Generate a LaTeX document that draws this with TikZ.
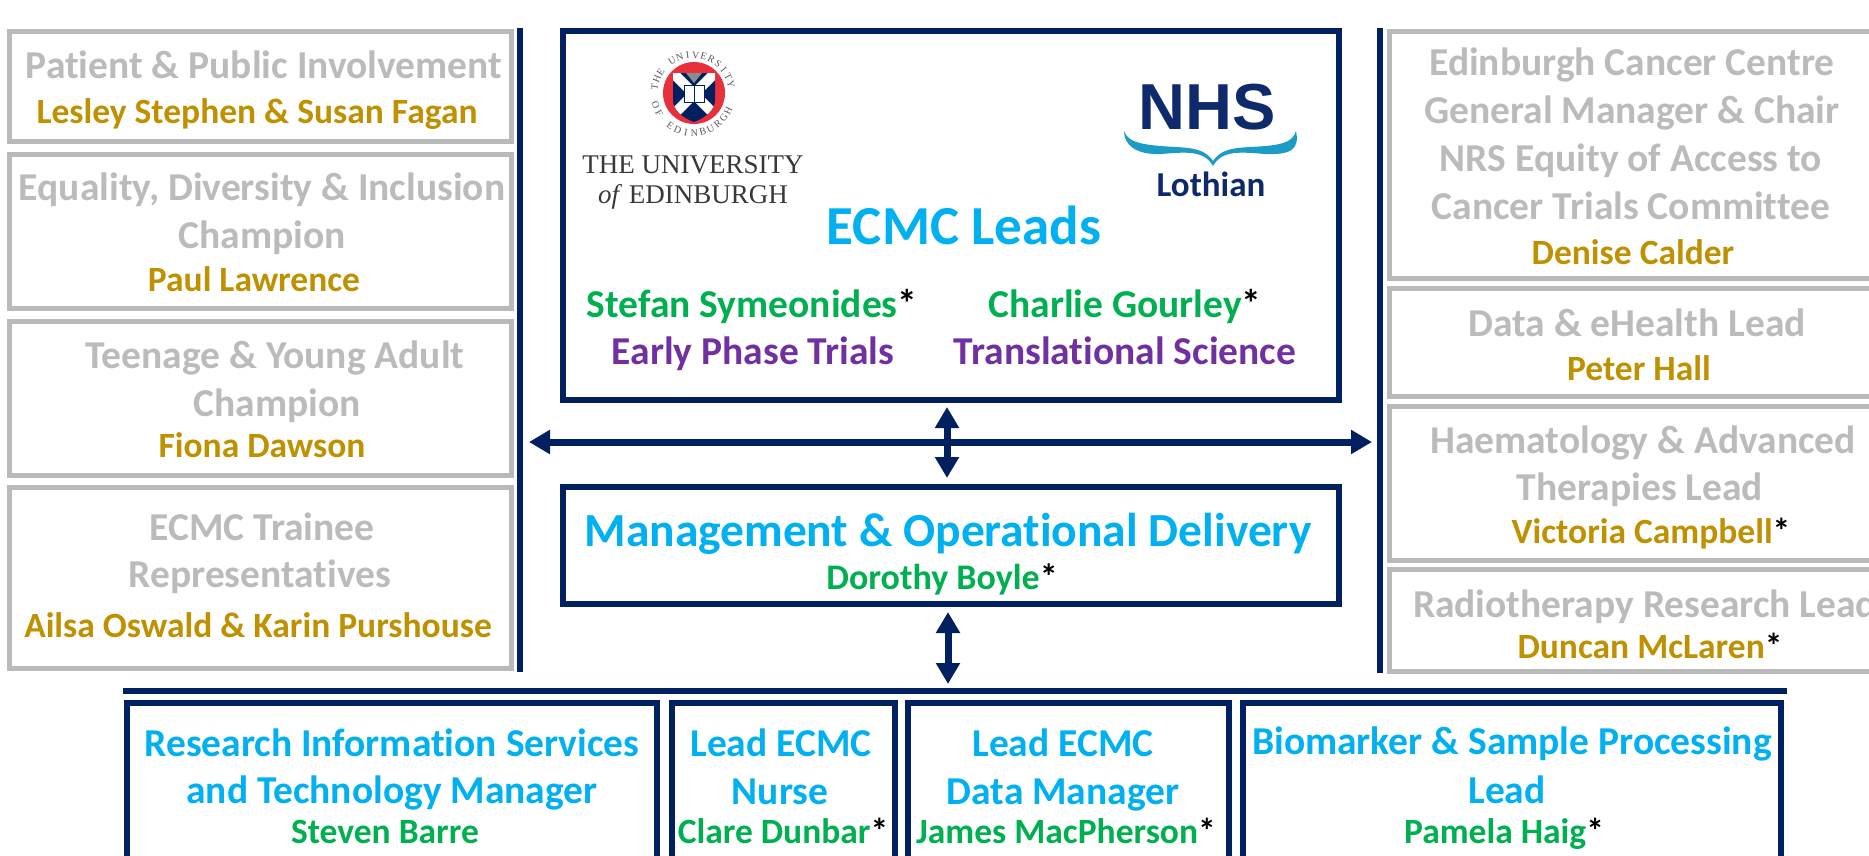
\documentclass[tikz,border=0pt]{standalone}
\usepackage{fontspec}
\setmainfont{Carlito}[Ligatures=CommonOff]
\newfontfamily\serifl{Liberation Serif}
\newfontfamily\nhsf{Liberation Sans}
\usetikzlibrary{arrows.meta}
\definecolor{navy}{HTML}{002060}
\definecolor{boxgray}{HTML}{B9B9B9}
\definecolor{txtgray}{HTML}{BBBBBB}
\definecolor{gold}{HTML}{BF9000}
\definecolor{cyanb}{HTML}{00B0F0}
\definecolor{greenb}{HTML}{00B050}
\definecolor{purp}{HTML}{7030A0}
\definecolor{nhsnavy}{HTML}{0F2A6B}
\definecolor{nhsteal}{HTML}{1B9CC4}
\definecolor{crestred}{HTML}{E8303A}
\newcommand{\st}{\textcolor{black}{*}}
\newcommand{\sz}[1]{\fontsize{#1pt}{#1pt}\selectfont\bfseries}
\tikzset{
  x=1pt,y=-1pt,
  graybox/.style={draw=boxgray,line width=5.5pt,fill=white,inner sep=0pt},
  navybox/.style={draw=navy,line width=6.5pt,fill=white,inner sep=0pt},
  txt/.style={anchor=base,inner sep=0pt,outer sep=0pt,yshift=-1pt},
  gh/.style={txt,text=txtgray,font=\sz{39.5}},
  gn/.style={txt,text=gold,font=\sz{35.5}},
  ch/.style={txt,text=cyanb,font=\sz{39.5}},
  gr/.style={txt,text=greenb,font=\sz{35.5}},
  pu/.style={txt,text=purp,font=\sz{39.5}},
  bar/.style={draw=navy,line width=6pt},
  dbl/.style={draw=navy,line width=7pt,{Triangle[length=21pt,width=23pt]}-{Triangle[length=21pt,width=23pt]}},
  crestletter/.style={inner sep=0pt,outer sep=0pt,text=black!65,font=\serifl\fontsize{10pt}{10pt}\selectfont},
}
\begin{document}
\begin{tikzpicture}
\clip (0,0) rectangle (1869,855);
% left column
\path[graybox] (9.5,31.5) rectangle (511.5,141.5);
\path[graybox] (9.5,154.5) rectangle (511.5,308.5);
\path[graybox] (9.5,321.5) rectangle (511.5,475.5);
\path[graybox] (9.5,487.5) rectangle (511.5,668.5);
\node[gh] (l1a) at (264,77) {Patient \& Public Involvement};
\node[gn] (l1b) at (257,122) {Lesley Stephen \& Susan Fagan};
\node[gh] (l2a) at (262,199) {Equality, Diversity \& Inclusion};
\node[gh] (l2b) at (262,247) {Champion};
\node[gn] (l2c) at (254,290) {Paul Lawrence};
\node[gh] (l3a) at (275,367) {Teenage \& Young Adult};
\node[gh] (l3b) at (277,415) {Champion};
\node[gn] (l3c) at (262,456) {Fiona Dawson};
\node[gh] (l4a) at (262,539) {ECMC Trainee};
\node[gh] (l4b) at (260,586) {Representatives};
\node[gn] (l4c) at (258,636) {Ailsa Oswald \& Karin Purshouse};
% right column
\path[graybox] (1389.5,31.5) rectangle (1890,278.5);
\path[graybox] (1389.5,288.5) rectangle (1890,396.5);
\path[graybox] (1389.5,406.5) rectangle (1890,560.5);
\path[graybox] (1389.5,569.5) rectangle (1890,671.5);
\node[gh] (r1a) at (1632,74) {Edinburgh Cancer Centre};
\node[gh] (r1b) at (1632,122) {General Manager \& Chair};
\node[gh] (r1c) at (1631,170) {NRS Equity of Access to};
\node[gh] (r1d) at (1631,218) {Cancer Trials Committee};
\node[gn] (r1e) at (1633,263) {Denise Calder};
\node[gh] (r2a) at (1637,335) {Data \& eHealth Lead};
\node[gn] (r2b) at (1639,379) {Peter Hall};
\node[gh] (r3a) at (1643,452) {Haematology \& Advanced};
\node[gh] (r3b) at (1640,499) {Therapies Lead};
\node[gn] (r3c) at (1651,542) {Victoria Campbell\st};
\node[gh,anchor=base west] (r4a) at (1413,616) {Radiotherapy Research Lead};
\node[gn] (r4b) at (1650,657) {Duncan McLaren\st};
% rules
\coordinate (vlt) at (520,28); \coordinate (vlb) at (520,672);
\coordinate (vrt) at (1380,28); \coordinate (vrb) at (1380,673);
\coordinate (hbl) at (123,691); \coordinate (hbr) at (1787,691);
\draw[bar] (vlt) -- (vlb);
\draw[bar] (vrt) -- (vrb);
\draw[bar] (hbl) -- (hbr);
% centre boxes
\path[navybox] (563,31) rectangle (1339,400);
\path[navybox] (563,487) rectangle (1339,604);
\coordinate (ecmcS) at (947,407);
\coordinate (mgmtN) at (947,478);
\coordinate (mgmtS) at (948,612);
\coordinate (hbarN) at (948,684);
\coordinate (harrL) at (529,442);
\coordinate (harrR) at (1372,442);
\draw[dbl] (harrL) -- (harrR);
\draw[dbl] (ecmcS) -- (mgmtN);
\draw[dbl] (mgmtS) -- (hbarN);
% crest
\coordinate (crest) at (694,93);
\fill[crestred] (crest) circle (31);
\fill[navy] (673,73) -- (715,73) -- (715,100) .. controls (715,110) and (705,118) .. (694,122) .. controls (683,118) and (673,110) .. (673,100) -- cycle;
\begin{scope}
\clip (673,73) -- (715,73) -- (715,100) .. controls (715,110) and (705,118) .. (694,122) .. controls (683,118) and (673,110) .. (673,100) -- cycle;
\draw[white,line width=10pt] (670,70) -- (718,118);
\draw[white,line width=10pt] (718,70) -- (670,118);
\fill[black!45] (686,73) -- (702,73) -- (694,83) -- cycle;
\fill[navy] (689,108) rectangle (699,119);
\end{scope}
\fill[white,draw=navy,line width=0.9pt] (684,85) rectangle (704,102);
\draw[navy,line width=0.9pt] (694,85) -- (694,102);
\foreach \c/\i in {T/0,H/1,E/2,U/4,N/5,I/6,V/7,E/8,R/9,S/10,I/11,T/12,Y/13}{
  \pgfmathsetmacro{\a}{170-12*\i}
  \node[crestletter,rotate=\a-90] (ct\i) at ({693+39*cos(\a)},{94-39*sin(\a)}) {\c};
}
\foreach \c/\i in {O/0,F/1,E/3,D/4,I/5,N/6,B/7,U/8,R/9,G/10,H/11}{
  \pgfmathsetmacro{\a}{197+12.5*\i}
  \node[crestletter,rotate=\a+90] (cb\i) at ({693+39*cos(\a)},{94-39*sin(\a)}) {\c};
}
\node[txt,font=\serifl\fontsize{27pt}{27pt}\selectfont,text=black!78] (uni1) at (693,172) {THE UNIVERSITY};
\node[txt,font=\serifl\fontsize{27pt}{27pt}\selectfont,text=black!78] (uni2) at (693,202) {\textit{of} EDINBURGH};
% NHS
\node[txt,text=nhsnavy,font=\nhsf\bfseries\fontsize{65pt}{65pt}\selectfont] (nhs) at (1207,128) {NHS};
\node[txt,text=nhsnavy,font=\sz{35}] (loth) at (1211,195) {Lothian};
\fill[nhsteal] (1124,131) .. controls (1128,142) and (1140,144) .. (1160,146)
  .. controls (1185,148) and (1203,146) .. (1213,161)
  .. controls (1223,146) and (1241,148) .. (1266,146)
  .. controls (1284,144) and (1292,142) .. (1296,131)
  .. controls (1300,150) and (1290,155) .. (1265,154)
  .. controls (1240,152) and (1222,150) .. (1213,166)
  .. controls (1204,150) and (1186,152) .. (1161,154)
  .. controls (1136,155) and (1124,145) .. (1124,131) -- cycle;
% centre text
\node[ch,font=\sz{55}] (leads) at (964,243) {ECMC Leads};
\node[gr,font=\sz{39.5}] (stefan) at (752,316) {Stefan Symeonides\st};
\node[gr,font=\sz{39.5}] (charlie) at (1125,316) {Charlie Gourley\st};
\node[pu] (early) at (753,363) {Early Phase Trials};
\node[pu] (trans) at (1125,363) {Translational Science};
\node[ch,font=\sz{47.5}] (mg) at (948,545) {Management \& Operational Delivery};
\node[gr,font=\sz{36}] (doro) at (942,588) {Dorothy Boyle\st};
% bottom boxes
\path[navybox] (127,703) rectangle (657,900);
\path[navybox] (672,703) rectangle (895,900);
\path[navybox] (908,703) rectangle (1229,900);
\path[navybox] (1243,703) rectangle (1781,900);
\node[ch] (b1a) at (392,755) {Research Information Services};
\node[ch] (b1b) at (392,802) {and Technology Manager};
\node[gr] (b1c) at (385,842) {Steven Barre};
\node[ch] (b2a) at (781,755) {Lead ECMC};
\node[ch] (b2b) at (780,803) {Nurse};
\node[gr] (b2c) at (783,842) {Clare Dunbar\st};
\node[ch] (b3a) at (1063,755) {Lead ECMC};
\node[ch] (b3b) at (1063,803) {Data Manager};
\node[gr] (b3c) at (1066,842) {James MacPherson\st};
\node[ch] (b4a) at (1512,753) {Biomarker \& Sample Processing};
\node[ch] (b4b) at (1507,802) {Lead};
\node[gr] (b4c) at (1504,842) {Pamela Haig\st};
\end{tikzpicture}
\end{document}
